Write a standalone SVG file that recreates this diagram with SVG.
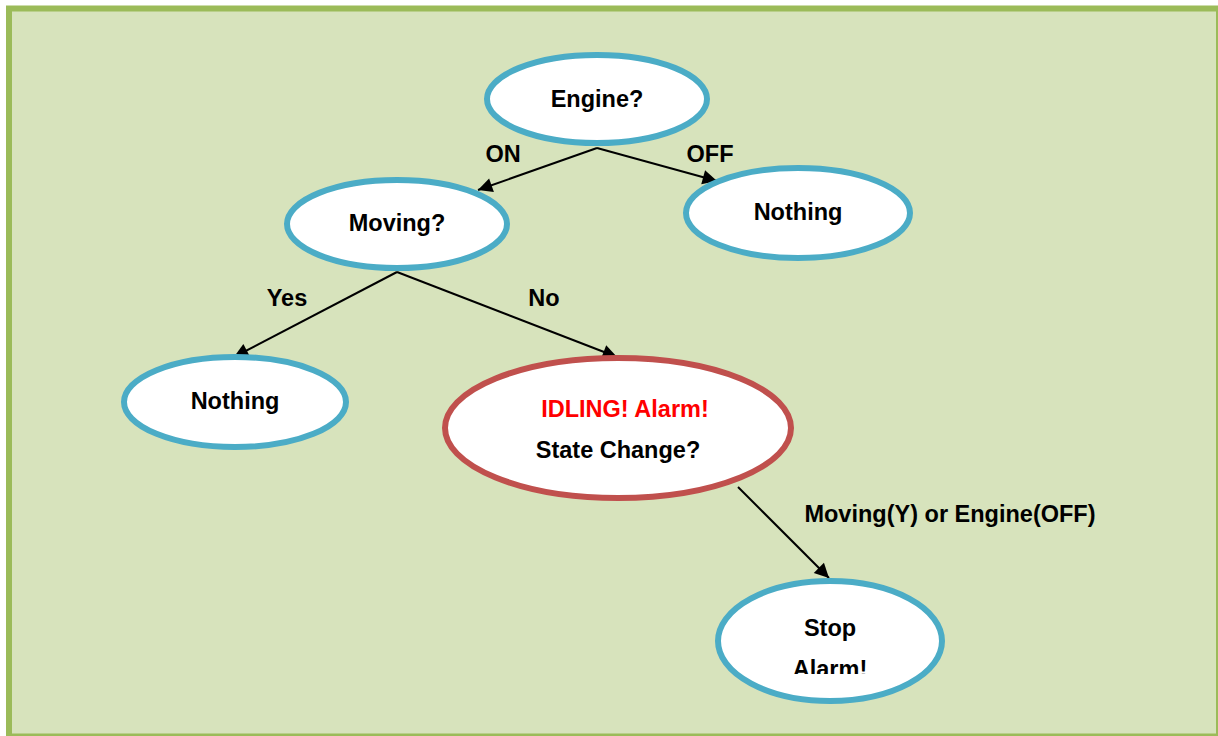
<svg xmlns="http://www.w3.org/2000/svg" width="1218" height="736" viewBox="0 0 1218 736">
<style>
.frame{fill:#D7E3BC;stroke:#9BBB59;stroke-width:6}
.node{fill:#fff;stroke:#4BACC6;stroke-width:6}
.alarm{fill:#fff;stroke:#C0504D;stroke-width:6}
.t{font-family:"Liberation Sans",Arial,sans-serif;font-weight:bold;font-size:23.5px;fill:#000;text-anchor:middle}
.red{fill:#FF0000}
.edge{stroke:#000;stroke-width:2;fill:none;marker-end:url(#ah)}
</style>
<defs>
<marker id="ah" viewBox="0 0 10 10" refX="10" refY="5" markerWidth="8" markerHeight="8" markerUnits="userSpaceOnUse" orient="auto" style="overflow:visible">
<path d="M0,0 L10,5 L0,10 Z" fill="#000" transform="scale(1.8) translate(-4.4,-2.2)"/>
</marker>
<clipPath id="clipStop"><rect x="700" y="570" width="260" height="104"/></clipPath>
</defs>
<rect class="frame" x="9" y="8.5" width="1210" height="728"/>
<g id="connectors">
<line class="edge" x1="597" y1="148" x2="478" y2="190"/>
<line class="edge" x1="597" y1="148" x2="717" y2="181"/>
<line class="edge" x1="397" y1="272" x2="234" y2="357"/>
<line class="edge" x1="397" y1="272" x2="617" y2="357"/>
<line class="edge" x1="738" y1="487" x2="829" y2="578"/>
<text class="t" x="503" y="162">ON</text>
<text class="t" x="710" y="162">OFF</text>
<text class="t" x="287" y="306">Yes</text>
<text class="t" x="544" y="306">No</text>
<text class="t" x="950" y="522">Moving(Y) or Engine(OFF)</text>
</g>
<g id="engine">
<ellipse class="node" cx="597" cy="99" rx="110" ry="44"/>
<text class="t" x="597" y="107">Engine?</text>
</g>
<g id="nothing-off">
<ellipse class="node" cx="798" cy="213" rx="112" ry="45"/>
<text class="t" x="798" y="220">Nothing</text>
</g>
<g id="moving">
<ellipse class="node" cx="397" cy="224" rx="110" ry="44"/>
<text class="t" x="397" y="231">Moving?</text>
</g>
<g id="nothing-yes">
<ellipse class="node" cx="235" cy="402" rx="111" ry="45"/>
<text class="t" x="235" y="409">Nothing</text>
</g>
<g id="idling">
<ellipse class="alarm" cx="618" cy="428" rx="173" ry="70"/>
<text class="t red" x="625" y="417">IDLING! Alarm!</text>
<text class="t" x="618" y="458">State Change?</text>
</g>
<g id="stop">
<ellipse class="node" cx="830" cy="641" rx="112" ry="60"/>
<g clip-path="url(#clipStop)">
<text class="t" x="830" y="636">Stop</text>
<text class="t" x="830" y="677">Alarm!</text>
</g>
</g>
</svg>
